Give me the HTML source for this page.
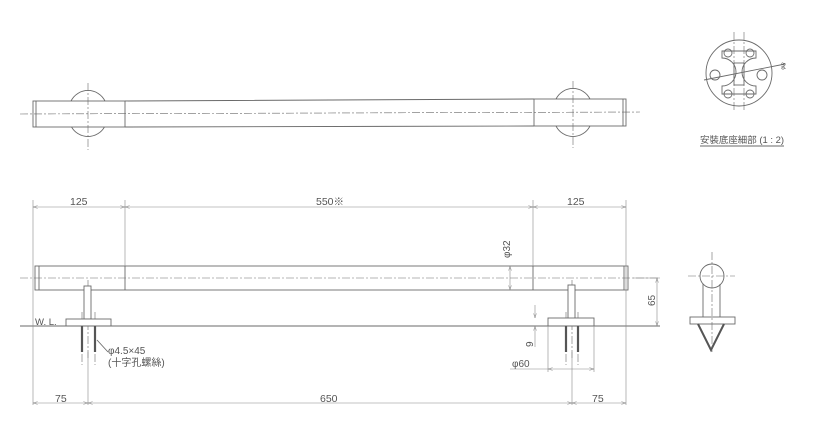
<!DOCTYPE html>
<html><head><meta charset="utf-8"><style>
html,body{margin:0;padding:0;background:#fff;width:824px;height:425px;overflow:hidden}
text{font-family:"Liberation Sans","Noto Sans CJK JP",sans-serif;fill:#555}
</style></head><body>
<svg width="824" height="425" viewBox="0 0 824 425" xmlns="http://www.w3.org/2000/svg">
<defs>
<marker id="a" viewBox="0 0 10 6" refX="10" refY="3" markerWidth="8" markerHeight="5" orient="auto-start-reverse"><path d="M0,0 L10,3 L0,6" fill="none" stroke="#888" stroke-width="1"/></marker>
</defs>
<g stroke="#6a6a6a" stroke-width="0.9" fill="none">
<!-- top view -->
<path d="M71,101 A19,19 0 0 1 105,101 M71,126 A19,19 0 0 0 105,126" />
<path d="M556,99 A19,19 0 0 1 590,99 M556,126 A19,19 0 0 0 590,126" />
<rect x="33" y="101" width="92" height="26" fill="#fff"/>
<line x1="36" y1="101" x2="36" y2="127"/>
<path d="M125,101 L534,99 M125,127 L534,126" />
<rect x="534" y="99" width="92" height="27" fill="#fff"/>
<line x1="623" y1="99" x2="623" y2="126"/>
<g stroke-dasharray="8,2,2,2" stroke-width="0.6">
<line x1="20" y1="114" x2="640" y2="112"/>
<line x1="88" y1="83" x2="88" y2="150"/>
<line x1="573" y1="81" x2="573" y2="148"/>
</g>
<!-- front view bar -->
<rect x="35" y="266" width="593" height="24"/>
<line x1="39" y1="266" x2="39" y2="290"/>
<line x1="125" y1="266" x2="125" y2="290"/>
<line x1="533" y1="266" x2="533" y2="290"/>
<line x1="624" y1="266" x2="624" y2="290"/>
<g stroke-dasharray="8,2,2,2" stroke-width="0.6">
<line x1="20" y1="278" x2="660" y2="278"/>
<line x1="88" y1="280" x2="88" y2="360"/>
<line x1="572" y1="280" x2="572" y2="360"/>
<line x1="82" y1="312" x2="82" y2="365"/><line x1="95" y1="312" x2="95" y2="365"/>
<line x1="566" y1="312" x2="566" y2="365"/><line x1="578" y1="312" x2="578" y2="365"/>
</g>
<!-- posts -->
<rect x="84" y="286" width="7" height="33" fill="#fff"/>
<rect x="568" y="285" width="7" height="34" fill="#fff"/>
<rect x="66" y="319" width="45" height="7" fill="#fff"/>
<rect x="548" y="318" width="46" height="8" fill="#fff"/>
<line x1="20" y1="326" x2="660" y2="326"/>
<g stroke="#555" stroke-width="2.2">
<line x1="82" y1="326" x2="82" y2="352"/><line x1="95" y1="326" x2="95" y2="352"/>
<line x1="566" y1="326" x2="566" y2="352"/><line x1="578" y1="326" x2="578" y2="352"/>
</g>
<!-- dim lines -->
<g stroke="#888" stroke-width="0.6">
<line x1="33" y1="200" x2="33" y2="405"/>
<line x1="125" y1="200" x2="125" y2="266"/>
<line x1="533" y1="200" x2="533" y2="266"/>
<line x1="626" y1="200" x2="626" y2="405"/>
<line x1="33" y1="207" x2="125" y2="207" marker-start="url(#a)" marker-end="url(#a)"/>
<line x1="125" y1="207" x2="533" y2="207" marker-start="url(#a)" marker-end="url(#a)"/>
<line x1="533" y1="207" x2="626" y2="207" marker-start="url(#a)" marker-end="url(#a)"/>
<line x1="88" y1="352" x2="88" y2="405"/>
<line x1="572" y1="352" x2="572" y2="405"/>
<line x1="33" y1="403" x2="88" y2="403" marker-start="url(#a)" marker-end="url(#a)"/>
<line x1="88" y1="403" x2="572" y2="403" marker-start="url(#a)" marker-end="url(#a)"/>
<line x1="572" y1="403" x2="626" y2="403" marker-start="url(#a)" marker-end="url(#a)"/>
<line x1="548" y1="326" x2="548" y2="372"/><line x1="594" y1="326" x2="594" y2="372"/>
<line x1="510" y1="369" x2="548" y2="369"/>
<line x1="548" y1="369" x2="594" y2="369" marker-start="url(#a)" marker-end="url(#a)"/>
<line x1="510" y1="266" x2="510" y2="290" marker-start="url(#a)" marker-end="url(#a)"/>
<line x1="633" y1="278" x2="660" y2="278"/>
<line x1="657" y1="278" x2="657" y2="326" marker-start="url(#a)" marker-end="url(#a)"/>
<line x1="535" y1="305" x2="535" y2="318" marker-end="url(#a)"/>
<line x1="535" y1="347" x2="535" y2="326" marker-end="url(#a)"/>
</g>
<line x1="97" y1="340" x2="108" y2="352"/>
<!-- side view -->
<circle cx="712" cy="276" r="12" fill="#fff"/>
<line x1="703" y1="284" x2="703" y2="317"/><line x1="720" y1="284" x2="720" y2="317"/>
<rect x="690" y="317" width="45" height="7" fill="#fff"/>
<path d="M698,324 L711,350 L724,324" stroke="#555" stroke-width="2"/>
<g stroke-dasharray="8,2,2,2" stroke-width="0.6">
<line x1="712" y1="252" x2="712" y2="352"/><line x1="688" y1="276" x2="735" y2="276"/>
</g>
<!-- detail -->
<circle cx="739" cy="73" r="33"/>
<path d="M722,51 h34 v7 a8,8 0 0 0 0,28 v8 h-34 v-8 a8,8 0 0 0 0,-28z"/>
<circle cx="728" cy="53" r="4"/><circle cx="750" cy="53" r="4"/>
<circle cx="728" cy="94" r="4"/><circle cx="750" cy="94" r="4"/>
<circle cx="715" cy="75" r="5"/><circle cx="762" cy="75" r="5"/>
<rect x="734" y="63" width="10" height="22"/>
<line x1="704" y1="80" x2="785" y2="64"/>
<g stroke-dasharray="8,2,2,2" stroke-width="0.6">
<line x1="734" y1="32" x2="734" y2="112"/><line x1="744" y1="32" x2="744" y2="112"/>
</g>
<line x1="700" y1="146" x2="784" y2="146"/>
</g>
<g font-size="10.5">
<text x="70" y="205">125</text>
<text x="316" y="205">550※</text>
<text x="567" y="205">125</text>
<text x="55" y="402">75</text>
<text x="320" y="402">650</text>
<text x="592" y="402">75</text>
<text x="35" y="325" font-size="9.5">W. L.</text>
<text x="108" y="354" font-size="10">φ4.5×45</text>
<text x="108" y="366" font-size="10">(十字孔螺絲)</text>
<text x="512" y="367" font-size="10">φ60</text>
<text x="0" y="0" transform="translate(510,258) rotate(-90)" font-size="10">φ32</text>
<text x="0" y="0" transform="translate(655,306) rotate(-90)" font-size="10">65</text>
<text x="0" y="0" transform="translate(533,347) rotate(-90)" font-size="10">9</text>
<text x="700" y="143" font-size="9" textLength="84" lengthAdjust="spacingAndGlyphs">安裝底座細部 (1 : 2)</text>
<text x="0" y="0" transform="translate(784,70) rotate(-75)" font-size="6">φ8</text>
</g>
</svg>
</body></html>
